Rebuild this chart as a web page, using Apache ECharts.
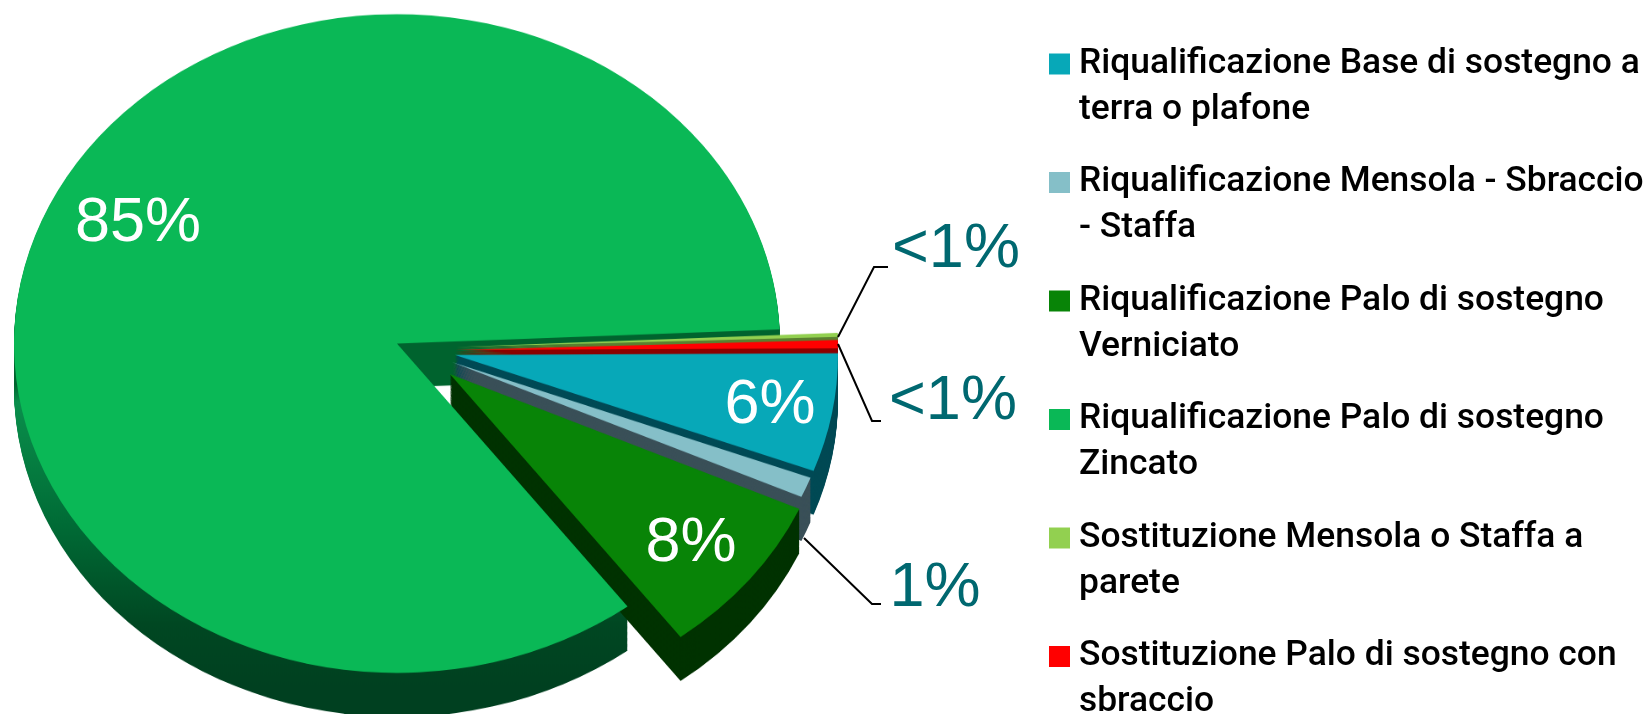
<!DOCTYPE html>
<html><head><meta charset="utf-8">
<style>
html,body{margin:0;padding:0;width:1648px;height:714px;overflow:hidden;background:#fff}
#pie{position:absolute;left:0;top:0;width:1648px;transform-origin:0 0}
#overlay{position:absolute;left:0;top:0;width:1648px;height:714px}
</style>
<script src="https://cdn.jsdelivr.net/npm/echarts@6/dist/echarts.min.js"></script>
</head><body>
<div id="pie"></div><div id="overlay"></div>
<script>
const categories = ["Riqualificazione Base di sostegno a terra o plafone","Riqualificazione Mensola - Sbraccio - Staffa","Riqualificazione Palo di sostegno Verniciato","Riqualificazione Palo di sostegno Zincato","Sostituzione Mensola o Staffa a parete","Sostituzione Palo di sostegno con sbraccio"];
const legendLines = ["Riqualificazione Base di sostegno a\nterra o plafone","Riqualificazione Mensola - Sbraccio\n- Staffa","Riqualificazione Palo di sostegno\nVerniciato","Riqualificazione Palo di sostegno\nZincato","Sostituzione Mensola o Staffa a\nparete","Sostituzione Palo di sostegno con\nsbraccio"];
const values = [5.8, 1.0, 8.0, 84.6, 0.2, 0.4];
const pctLabels = ["6%","1%","8%","85%","<1%","<1%"];
const topColors = ["#07a8b8","#85bfc8","#088407","#0ab856","#92d050","#ff0000"];
const wallColors = ["#004a55","#3a5058","#003200",null,"#5a8030","#8c0000"];
const labelColors = ["#fff","#006870","#fff","#fff","#006870","#006870"];

const k = 0.86, R = 383, depth = 44, startAngle = 0.3;
const centers = [[455,355],[452,362],[450,374],[397,343.5],[455,347],[455,350]];
const labelPos = [[770,406],[935,589],[691,544],[138,224],[956,250],[953,402]];

const mainWall = {type:'linear',global:true,x:0,y:330/k,x2:0,y2:690/k,colorStops:[
  {offset:0,color:'#00632e'},{offset:0.15,color:'#00632e'},{offset:0.2,color:'#0a8f4c'},
  {offset:0.55,color:'#006a35'},{offset:0.82,color:'#004722'},{offset:1,color:'#004020'}]};

const pieEl = document.getElementById('pie');
pieEl.style.height = (714/k)+'px';
pieEl.style.transform = 'scaleY('+k+')';

let z = 1;
function layer(idx, dy, color){
  return {type:'pie',silent:true,animation:false,z:z++,startAngle,radius:R,
    center:[centers[idx][0],(centers[idx][1]+dy)/k],
    label:{show:false},labelLine:{show:false},emphasis:{disabled:true},
    data:values.map((v,i)=>({value:v,name:categories[i],itemStyle:{color:i===idx?color:'rgba(0,0,0,0)'}}))};
}
function stack(idx){
  const out=[];
  const wall = idx===3?mainWall:wallColors[idx];
  for(let d=depth;d>=1;d--) out.push(layer(idx,d,wall));
  return out;
}
const series=[];
series.push(...stack(3));
[4,5,0,1].forEach(i=>{series.push(...stack(i));series.push(layer(i,0,topColors[i]));});
series.push(...stack(2));
series.push(layer(3,0,topColors[3]));
series.push(layer(2,0,topColors[2]));

const pie = echarts.init(pieEl,null,{renderer:'canvas'});
pie.setOption({animation:false,series});

const overlay = echarts.init(document.getElementById('overlay'));
const leaders = [
  [[838,337],[874,267],[888,267]],
  [[838,344],[872,421],[881,421]],
  [[804,538],[872,604],[881,604]]
];
overlay.setOption({
  animation:false,
  legend:{
    orient:'vertical',left:1049,top:-5,height:1000,padding:0,itemWidth:21,itemHeight:21,itemGap:-19.5,icon:'rect',
    selectedMode:false,data:categories,
    formatter:n=>'\n'+legendLines[categories.indexOf(n)],
    textStyle:{fontFamily:'Roboto',fontSize:35.4,lineHeight:46,color:'#000',fontWeight:500,padding:[0,0,0,4]},
    itemStyle:{borderWidth:0}
  },
  graphic:leaders.map(p=>({type:'polyline',silent:true,z:5,shape:{points:p},style:{stroke:'#000',lineWidth:2,fill:null}})),
  series:[{
    type:'pie',silent:true,radius:0.1,center:[-50,-50],startAngle,z:6,
    avoidLabelOverlap:false,minShowLabelAngle:0,
    labelLine:{show:false},emphasis:{disabled:true},
    label:{show:true,position:'outside',fontFamily:'"Liberation Sans"',fontSize:63,
      formatter:p=>pctLabels[p.dataIndex]},
    labelLayout:p=>({x:labelPos[p.dataIndex][0],y:labelPos[p.dataIndex][1],align:'center',verticalAlign:'middle'}),
    data:values.map((v,i)=>({value:v,name:categories[i],itemStyle:{color:topColors[i]},label:{color:labelColors[i]}}))
  }]
});
</script>
</body></html>
